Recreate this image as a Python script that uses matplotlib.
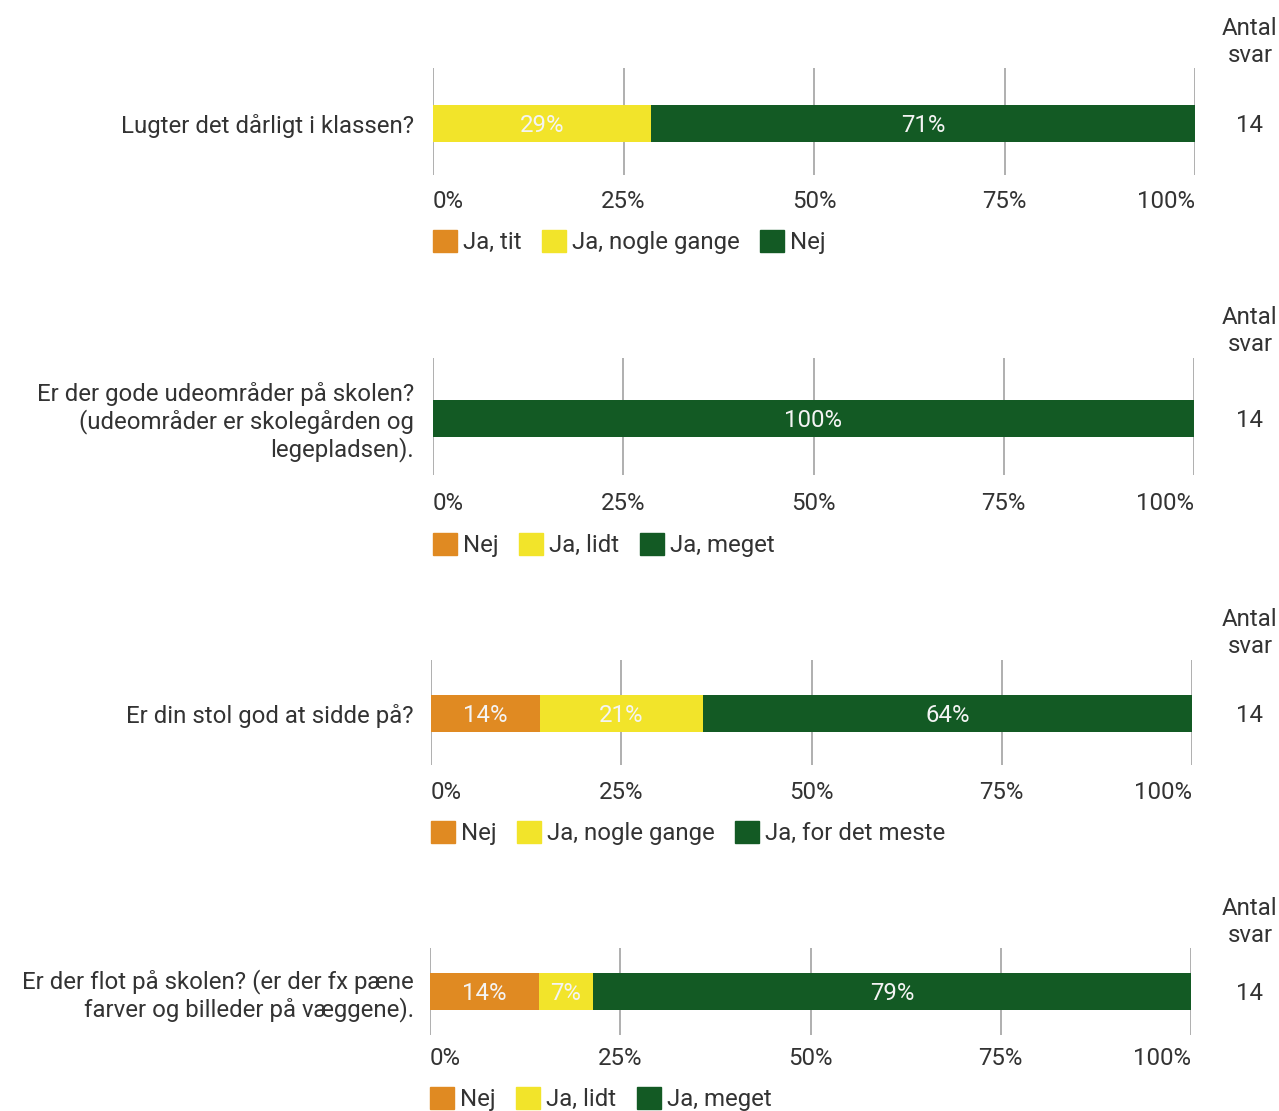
import matplotlib
matplotlib.use("Agg")
import matplotlib.pyplot as plt
from matplotlib.patches import Patch

plt.rcParams['font.family'] = ['Roboto', 'DejaVu Sans']

# ---- data ----
questions = [
    "Lugter det dårligt i klassen?",
    "Er der gode udeområder på skolen?\n(udeområder er skolegården og\nlegepladsen).",
    "Er din stol god at sidde på?",
    "Er der flot på skolen? (er der fx pæne\nfarver og billeder på væggene).",
]
legend_labels = [
    ["Ja, tit", "Ja, nogle gange", "Nej"],
    ["Nej", "Ja, lidt", "Ja, meget"],
    ["Nej", "Ja, nogle gange", "Ja, for det meste"],
    ["Nej", "Ja, lidt", "Ja, meget"],
]
values = [
    [0, 28.6, 71.4],
    [0, 0, 100],
    [14.3, 21.4, 64.3],
    [14.3, 7.1, 78.6],
]
counts = [14, 14, 14, 14]
tick_values = [0, 25, 50, 75, 100]
tick_labels = ["0%", "25%", "50%", "75%", "100%"]
count_header = "Antal\nsvar"

colors = ["#E08A22", "#F2E42A", "#135A24"]
text_col = "#333333"
grid_col = "#9a9a9a"

W, H = 1279, 1111
fig = plt.figure(figsize=(W / 100, H / 100), dpi=100)

# layout in pixels: x0, x1, grid top, grid bottom, bar center, tick y, legend y, header y
layout = [
    (433, 1195, 68, 175, 123, 200, 242, 42),
    (433, 1194, 358, 475, 418, 502, 545, 331),
    (431, 1192, 660, 765, 713, 791, 833, 633),
    (430, 1191, 948, 1035, 991, 1057, 1099, 922),
]
bar_h = 37
fs = 17.3

for i, (x0, x1, gt, gb, bc, ty, ly, hy) in enumerate(layout):
    ax = fig.add_axes([x0 / W, 1 - gb / H, (x1 - x0) / W, (gb - gt) / H])
    ax.set_xlim(0, 100)
    ax.set_ylim(-(gb - bc), bc - gt)
    for s in ax.spines.values():
        s.set_visible(False)
    for t in tick_values:
        ax.axvline(t, color=grid_col, lw=1.1, zorder=0)
    left = 0
    for v, c in zip(values[i], colors):
        if v > 0:
            ax.barh(0, v, left=left, height=bar_h, color=c, zorder=2)
            ax.text(left + v / 2, 0, f"{round(v)}%", ha="center", va="center_baseline",
                    color="#f4f4f4", fontsize=fs, zorder=3)
        left += v
    ax.set_xticks(tick_values)
    pad_pt = (ty - gb - 10) * 0.72
    ax.set_xticklabels(tick_labels, fontsize=fs, color=text_col)
    ax.tick_params(axis="x", length=0, pad=pad_pt)
    tl = ax.get_xticklabels()
    tl[0].set_ha("left")
    tl[-1].set_ha("right")
    ax.set_yticks([0])
    ax.set_yticklabels([questions[i]], fontsize=fs, color=text_col, linespacing=1.15)
    ax.tick_params(axis="y", length=0, pad=(x0 - 414) * 0.72)

    handles = [Patch(facecolor=c, edgecolor=c) for c in colors]
    fig.legend(handles, legend_labels[i], loc="center left",
               bbox_to_anchor=(x0 / W, 1 - ly / H), bbox_transform=fig.transFigure,
               ncol=3, frameon=False, fontsize=fs, labelcolor=text_col,
               handlelength=1.0, handleheight=1.0, handletextpad=0.25,
               columnspacing=0.85, borderpad=0, borderaxespad=0)

    cx = 1250
    fig.text(cx / W, 1 - hy / H, count_header, ha="center", va="center",
             fontsize=fs, color=text_col, linespacing=1.22)
    fig.text(cx / W, 1 - bc / H, str(counts[i]), ha="center", va="center_baseline",
             fontsize=fs, color=text_col)

fig.savefig("out.png", dpi=100, facecolor="white")
